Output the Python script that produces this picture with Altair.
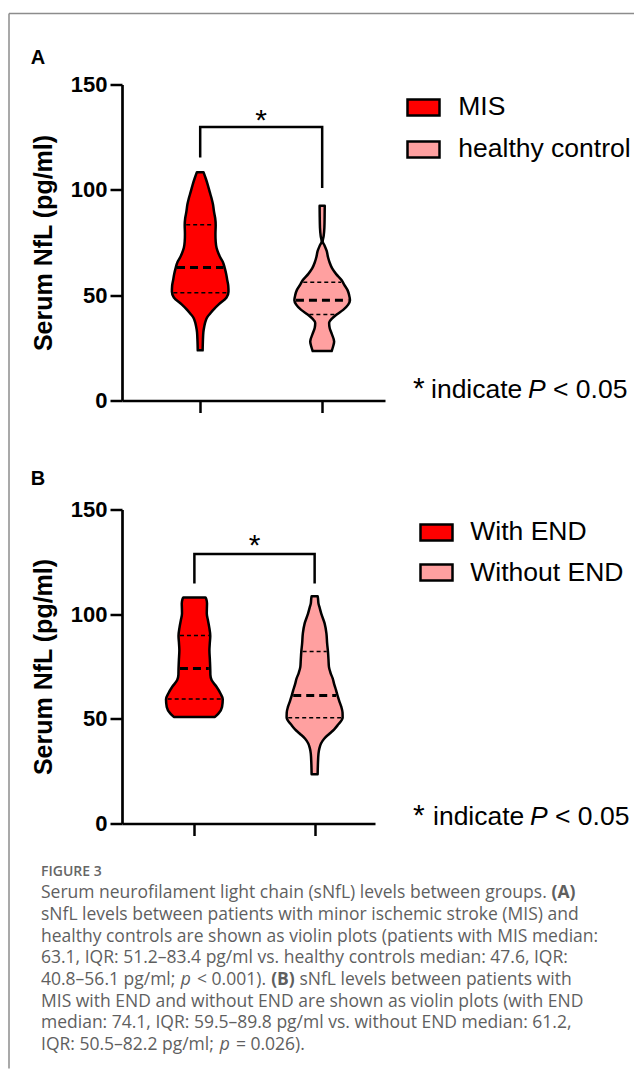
import altair as alt
import pandas as pd

FONT = "Liberation Sans"
CAP_FONT = "Open Sans"
FRAME = "#8c8c8c"
CAP_COLOR = "#5f5f5f"

# ---------------- data ----------------
Y_TICKS = [0, 50, 100, 150]
X_TICKS = [1, 2]

# Panel A : MIS vs healthy control
A_GROUPS = ["MIS", "healthy control"]
A_COLORS = ["#ff0000", "#ffa0a0"]
MIS_V = [23.8, 28, 32.5, 35, 37.3, 39.5, 41.3, 43.5, 45.6, 48.9, 51.6, 54.5, 57.1, 60, 62.7,
         65.9, 68, 69.8, 72.5, 75.4, 79, 83.3, 86.5, 89.7, 93, 96.0, 99, 102.4, 105.5, 108.4]
MIS_HW = [0.020, 0.022, 0.026, 0.033, 0.042, 0.057, 0.082, 0.115, 0.152, 0.216, 0.232, 0.230,
          0.222, 0.213, 0.202, 0.185, 0.164, 0.150, 0.134, 0.127, 0.125, 0.127, 0.123, 0.113,
          0.105, 0.093, 0.078, 0.062, 0.045, 0.027]
HC_V = [23.5, 25.5, 28.0, 31.7, 34.5, 36.8, 39.0, 40.8, 43.0, 45.5, 47.6, 50.0, 52.5, 55.0,
        57.1, 60.0, 62.7, 65.5, 68.0, 71.0, 73.5, 75.5, 78.0, 82.0, 87.0, 92.4]
HC_HW = [0.078, 0.089, 0.098, 0.078, 0.061, 0.057, 0.082, 0.119, 0.172, 0.213, 0.228, 0.221,
         0.207, 0.180, 0.160, 0.115, 0.082, 0.061, 0.048, 0.037, 0.020, 0.004, 0.012, 0.018,
         0.020, 0.021]
A_MEDIAN = [63.1, 47.6]
A_Q1 = [51.2, 40.8]
A_Q3 = [83.4, 56.1]
A_MEDIAN_HW = [0.19, 0.215]
A_Q1_HW = [0.22, 0.105]
A_Q3_HW = [0.115, 0.155]
A_BRACKET = [115.4, 129.8, 129.8, 100.9]
A_STAR = 128.5

# Panel B : with END vs without END
B_GROUPS = ["With END", "Without END"]
B_COLORS = ["#ff0000", "#ffa0a0"]
WE_V = [50.9, 52.6, 55.7, 59.4, 62.1, 65.3, 68.5, 71, 73.7, 78, 82.8, 86, 89.6, 93.9, 97,
        100.3, 103, 105.1, 107, 108.0]
WE_HW = [0.171, 0.201, 0.230, 0.236, 0.217, 0.184, 0.143, 0.133, 0.132, 0.129, 0.125, 0.128,
         0.132, 0.123, 0.113, 0.103, 0.104, 0.105, 0.100, 0.092]
WO_V = [23.5, 28, 33.4, 36, 38.2, 40.5, 43.0, 45, 47.0, 50.6, 53, 55.7, 58.5, 60.8, 63.7, 66.5,
        69.3, 72, 74.8, 78.5, 82.0, 86.0, 90.8, 95.6, 100.3, 103, 105.1, 107.5, 108.6]
WO_HW = [0.025, 0.027, 0.032, 0.040, 0.053, 0.079, 0.125, 0.163, 0.192, 0.233, 0.232, 0.222,
         0.205, 0.192, 0.178, 0.163, 0.150, 0.132, 0.119, 0.115, 0.111, 0.104, 0.098, 0.083,
         0.055, 0.042, 0.032, 0.028, 0.025]
B_MEDIAN = [74.1, 61.2]
B_Q1 = [59.5, 50.5]
B_Q3 = [89.8, 82.2]
B_MEDIAN_HW = [0.12, 0.178]
B_Q1_HW = [0.222, 0.22]
B_Q3_HW = [0.12, 0.10]
B_BRACKET = [114.7, 128.7, 128.7, 114.7]
B_STAR = 128.4

Y_TITLE = "Serum NfL (pg/ml)"
NOTE = ["*", "indicate", "P", "< 0.05"]

CAP_HEAD = "FIGURE 3"
CAPTION = [
    [("Serum neurofilament light chain (sNfL) levels between groups. ", "n"), ("(A)", "b")],
    [("sNfL levels between patients with minor ischemic stroke (MIS) and", "n")],
    [("healthy controls are shown as violin plots (patients with MIS median:", "n")],
    [("63.1, IQR: 51.2\u201383.4 pg/ml vs. healthy controls median: 47.6, IQR:", "n")],
    [("40.8\u201356.1 pg/ml; ", "n"), ("p", "i"), (" < 0.001). ", "n"), ("(B)", "b"),
     (" sNfL levels between patients with", "n")],
    [("MIS with END and without END are shown as violin plots (with END", "n")],
    [("median: 74.1, IQR: 59.5\u201389.8 pg/ml vs. without END median: 61.2,", "n")],
    [("IQR: 50.5\u201382.2 pg/ml; ", "n"), ("p", "i"), (" = 0.026).", "n")],
]

# ---------------- helpers ----------------
ONE = pd.DataFrame({"k": [0]})

OS_W = {' ': 532, 'a': 1139, 'b': 1255, 'c': 975, 'd': 1255, 'e': 1149, 'f': 694, 'g': 1122,
        'h': 1257, 'i': 518, 'j': 518, 'k': 1075, 'l': 518, 'm': 1905, 'n': 1257, 'o': 1237,
        'p': 1255, 'q': 1255, 'r': 836, 's': 977, 't': 723, 'u': 1257, 'v': 1026, 'w': 1593,
        'x': 1073, 'y': 1028, 'z': 977, '.': 545, ',': 500, ':': 545, ';': 545, '(': 604,
        ')': 604, '\u2013': 1024, '/': 752, '<': 1171, '=': 1171, 'I': 608, 'Q': 1587,
        'R': 1276, 'M': 1767, 'S': 1096, 'E': 1124, 'N': 1548, 'D': 1479, 'L': 1006,
        'A': 1296, 'B': 1327}


def text_width(s, size):
    return sum(OS_W.get(ch, 1171) for ch in s) / 2048.0 * size


def txt(t, x, y, size, weight="normal", style="normal", font=FONT, color="black"):
    return alt.Chart(ONE).mark_text(
        text=t, font=font, fontSize=size, fontWeight=weight, fontStyle=style,
        color=color, align="left", baseline="alphabetic"
    ).encode(x=alt.value(x), y=alt.value(y))


def panel(letter, groups, colors, vlists, hwlists, med, q1, q3, med_hw, q1_hw, q3_hw,
          bracket, star_v, W, H, xdom, lx, ly, loff, rowpad, note_x, note_dx, note_y,
          letter_y, extra):
    yscale = alt.Scale(domain=[0, 150], nice=False)
    xscale = alt.Scale(domain=xdom, nice=False, zero=False)
    yaxis = alt.Axis(values=Y_TICKS, grid=False, tickSize=12, tickWidth=2.5, tickColor="black",
                     domainColor="black", domainWidth=2.7, labelFont=FONT, labelFontSize=22,
                     labelFontWeight="bold", labelColor="black", labelPadding=3,
                     titleFont=FONT, titleFontSize=25, titleFontWeight="bold", titleColor="black",
                     titleAngle=270, titleX=-79, titleY=H / 2, titleBaseline="middle",
                     titleAlign="center")
    xaxis = alt.Axis(values=X_TICKS, labels=False, grid=False, tickSize=12, tickWidth=2.5,
                     tickColor="black", domainColor="black", domainWidth=2.7)

    def X(f):
        return alt.X(f, type="quantitative", scale=xscale, axis=xaxis, title=None)

    def Y(f):
        return alt.Y(f, type="quantitative", scale=yscale, axis=yaxis, title=Y_TITLE)

    rows = []
    for g, c, vl, hl in zip(groups, X_TICKS, vlists, hwlists):
        for v, h in zip(vl, hl):
            rows.append({"group": g, "v": v, "lo": c - h, "hi": c + h})
    vdf = pd.DataFrame(rows)

    legend = alt.Legend(title=None, orient="none", legendX=lx, legendY=ly,
                        symbolType="M-1,-0.5H1V0.5H-1Z", symbolSize=1024,
                        symbolStrokeColor="black", symbolStrokeWidth=2.5, symbolOpacity=1,
                        labelFont=FONT, labelFontSize=26.5, labelColor="black",
                        labelOffset=loff, labelLimit=400, rowPadding=rowpad)

    violins = alt.Chart(vdf).mark_area(
        orient="horizontal", interpolate="monotone", stroke="black", strokeWidth=2.5,
        strokeJoin="round", opacity=1
    ).encode(
        x=X("lo"), x2="hi:Q", y=Y("v"),
        color=alt.Color("group:N", scale=alt.Scale(domain=groups, range=colors), legend=legend),
    )

    med_df = pd.DataFrame({"v": med,
                           "lo": [c - h for c, h in zip(X_TICKS, med_hw)],
                           "hi": [c + h for c, h in zip(X_TICKS, med_hw)]})
    q_df = pd.DataFrame({"v": q1 + q3,
                         "lo": [c - h for c, h in zip(X_TICKS + X_TICKS, q1_hw + q3_hw)],
                         "hi": [c + h for c, h in zip(X_TICKS + X_TICKS, q1_hw + q3_hw)]})
    med_rules = alt.Chart(med_df).mark_rule(color="black", strokeWidth=3, strokeDash=[8, 5]).encode(
        x=X("lo"), x2="hi:Q", y=Y("v"))
    q_rules = alt.Chart(q_df).mark_rule(color="black", strokeWidth=1.5, strokeDash=[4, 3]).encode(
        x=X("lo"), x2="hi:Q", y=Y("v"))

    br_df = pd.DataFrame({"x": [X_TICKS[0], X_TICKS[0], X_TICKS[1], X_TICKS[1]],
                          "v": bracket, "i": [0, 1, 2, 3]})
    br = alt.Chart(br_df).mark_line(color="black", strokeWidth=2.5, strokeJoin="miter",
                                    strokeCap="butt").encode(x=X("x"), y=Y("v"), order="i:Q")
    star_df = pd.DataFrame({"x": [sum(X_TICKS) / 2], "v": [star_v]})
    star = alt.Chart(star_df).mark_text(text="*", font=FONT, fontSize=30, color="black",
                                        align="center", baseline="alphabetic").encode(
        x=X("x"), y=Y("v"))

    layers = [violins, q_rules, med_rules, br, star]
    # note "* indicate P < 0.05"
    layers.append(txt(NOTE[0], note_x, note_y, 30))
    layers.append(txt(NOTE[1], note_x + note_dx, note_y, 26.5))
    layers.append(txt(NOTE[2], note_x + note_dx + 97, note_y, 26.5, style="italic"))
    layers.append(txt(NOTE[3], note_x + note_dx + 122, note_y, 26.5))
    # panel letter
    layers.append(txt(letter, -91.3, letter_y, 20, weight="bold"))
    layers += extra
    return alt.layer(*layers).properties(width=W, height=H)


# frame (drawn with panel A, relative to its plot origin)
frame = [
    alt.Chart(ONE).mark_rule(color=FRAME, strokeWidth=1.5).encode(
        x=alt.value(-113), x2=alt.value(512), y=alt.value(-71)),
    alt.Chart(ONE).mark_rule(color=FRAME, strokeWidth=1.5).encode(
        x=alt.value(-113), y=alt.value(-71), y2=alt.value(984)),
]

# caption (drawn with panel B, relative to its plot origin)
CAP_SIZE = 17.5
CAP_X = -81
CAP_Y0 = 366.7
CAP_Y1 = 388.7
CAP_DY = 21.7
caption = [txt(CAP_HEAD, CAP_X, CAP_Y0, 14, weight=600, font=CAP_FONT, color="#666666")]
for i, line in enumerate(CAPTION):
    y = CAP_Y1 + CAP_DY * i
    x = CAP_X
    for run, st in line:
        lead = len(run) - len(run.lstrip(" "))
        x_start = x + text_width(" " * lead, CAP_SIZE) + (0.5 if lead else 0)
        caption.append(txt(run.strip(" "), x_start, y, CAP_SIZE,
                           weight="bold" if st == "b" else "normal",
                           style="italic" if st == "i" else "normal",
                           font=CAP_FONT, color=CAP_COLOR))
        x = x_start + text_width(run.lstrip(" "), CAP_SIZE) * (1.05 if st == "b" else 1.0) + 0.5

panel_a = panel("A", A_GROUPS, A_COLORS, [MIS_V, HC_V], [MIS_HW, HC_HW],
                A_MEDIAN, A_Q1, A_Q3, A_MEDIAN_HW, A_Q1_HW, A_Q3_HW, A_BRACKET, A_STAR,
                263, 316, [0.359, 2.515], 284, 5.4, 17.3, 11, 291, 18, 313, -21, frame)
panel_b = panel("B", B_GROUPS, B_COLORS, [WE_V, WO_V], [WE_HW, WO_HW],
                B_MEDIAN, B_Q1, B_Q3, B_MEDIAN_HW, B_Q1_HW, B_Q3_HW, B_BRACKET, B_STAR,
                253, 314, [0.398, 2.502], 297, 5.4, 16.3, 9.2, 291, 20, 315.7, -24.3, caption)

chart = alt.vconcat(panel_a, panel_b, spacing=109, bounds="flush").resolve_scale(
    x="independent", y="independent", color="independent"
).resolve_legend(color="independent").properties(
    padding={"left": 0, "top": 4.5, "right": 0, "bottom": 0}
).configure_view(strokeWidth=0)

chart.save("out.html", embed_options={"renderer": "svg", "actions": False})
